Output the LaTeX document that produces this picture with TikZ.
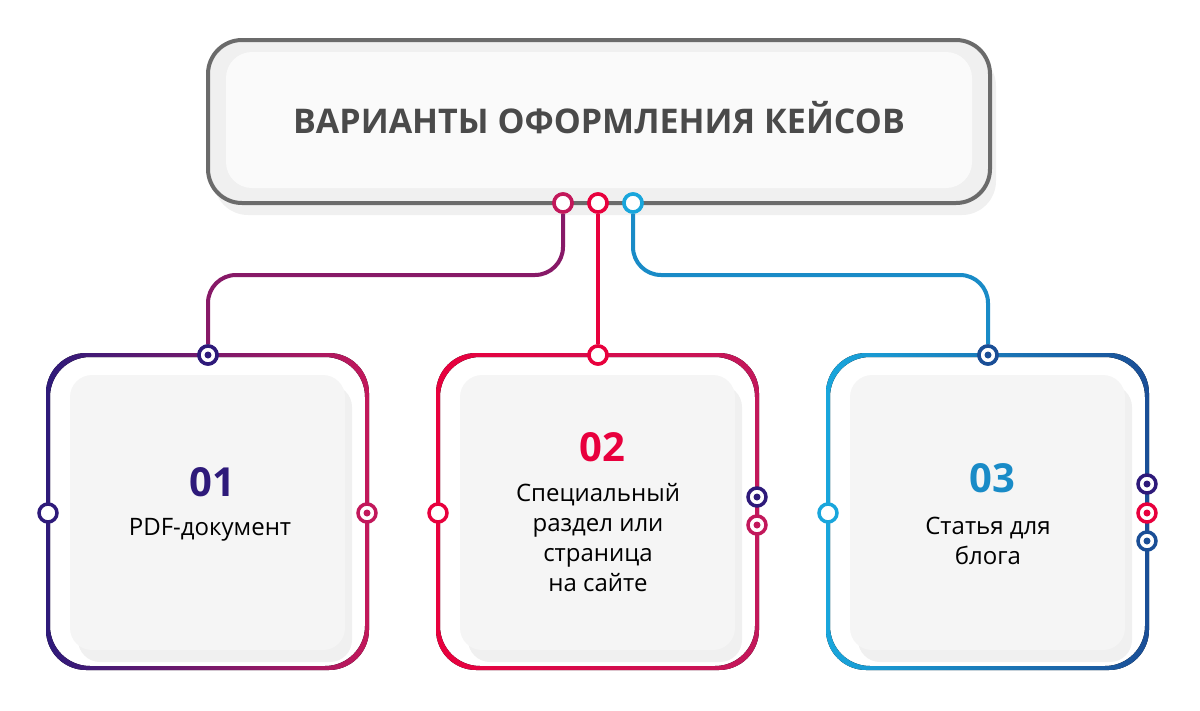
\documentclass[tikz,border=0pt]{standalone}
\usepackage{fontspec}
\setmainfont{Open Sans}
\definecolor{navy}{HTML}{2E1A7A}
\definecolor{plum}{HTML}{C2185B}
\definecolor{scarlet}{HTML}{E8003D}
\definecolor{sky}{HTML}{19A6DC}
\definecolor{deepblue}{HTML}{1A4E96}
\definecolor{titlegrey}{HTML}{4A4A4A}
\tikzset{every picture/.style={line width=4pt}}
\tikzset{
  ring/.style={circle, draw=#1, fill=white, line width=3.5pt, minimum size=18pt, inner sep=0pt},
  dotring/.style={ring=#1, path picture={\fill[#1] (path picture bounding box.center) circle (3.5pt);}},
  panel/.style={fill=black!4, rounded corners=22pt, draw=none},
  caption/.style={align=center, font=\fontsize{24}{30}\selectfont, text=black},
  number/.style={font=\fontsize{40}{42}\selectfont\bfseries}
}
\newcommand{\gradframe}[4]{% center x, center y, left colour, right colour
  \fill[left color=#3, right color=#4, even odd rule, rounded corners=40pt]
    (#1-161.5,#2-158.5) rectangle (#1+161.5,#2+158.5)
    (#1-157.5,#2-154.5) rectangle (#1+157.5,#2+154.5);}

\begin{document}
\begin{tikzpicture}[x=1pt,y=-1pt]
\useasboundingbox (0,0) rectangle (1200,710);

% title box
\fill[black!6, rounded corners=34pt] (214,52) rectangle (996,215);
\draw[draw=black!58, fill=black!6, rounded corners=34pt] (208,40) rectangle (990,203);
\fill[black!2, rounded corners=26pt] (226,52) rectangle (972,188);
\node[font=\fontsize{34}{36}\selectfont\bfseries, text=titlegrey] (title) at (599,118) {ВАРИАНТЫ ОФОРМЛЕНИЯ КЕЙСОВ};

% frames
\gradframe{207.5}{511.5}{navy}{plum}
\gradframe{597.5}{511.5}{scarlet}{plum}
\gradframe{987.5}{511.5}{sky}{deepblue}

% panels
\fill[black!6, rounded corners=22pt] (78,385) rectangle (352,662);
\fill[panel] (70,375) rectangle (345,650);
\fill[black!6, rounded corners=22pt] (468,385) rectangle (742,662);
\fill[panel] (460,375) rectangle (735,650);
\fill[black!6, rounded corners=22pt] (858,385) rectangle (1132,662);
\fill[panel] (850,375) rectangle (1125,650);

% connectors
\node[ring=plum] (t1) at (563,203) {};
\node[ring=scarlet] (t2) at (598,203) {};
\node[ring=sky] (t3) at (633,203) {};
\node[dotring=navy] (b1) at (208,355) {};
\node[ring=scarlet] (b2) at (598,355) {};
\node[dotring=deepblue] (b3) at (988,355) {};
\draw[plum!60!navy, rounded corners=28pt] (t1.south) -- (563,275) -- (208,275) -- (b1.north);
\draw[scarlet] (t2) -- (b2);
\draw[sky!70!deepblue, rounded corners=28pt] (t3.south) -- (633,275) -- (988,275) -- (b3.north);
\node[dotring=navy] at (208,355) {};
\node[ring=scarlet] at (598,355) {};
\node[dotring=deepblue] at (988,355) {};
\node[ring=plum] at (563,203) {};
\node[ring=scarlet] at (598,203) {};
\node[ring=sky] at (633,203) {};

% side rings
\node[ring=navy] (l1) at (48,513) {};
\node[dotring=plum] (r1) at (367,513) {};
\node[ring=scarlet] (l2) at (438,513) {};
\node[dotring=navy] (r2a) at (757,497) {};
\node[dotring=plum] (r2b) at (757,525) {};
\node[ring=sky] (l3) at (828,513) {};
\node[dotring=navy] (r3a) at (1147,484) {};
\node[dotring=scarlet] (r3b) at (1147,513) {};
\node[dotring=deepblue] (r3c) at (1147,541) {};

% texts
\node[number, text=navy] (n1) at (212,482) {01};
\node[caption] (c1) at (210,530) {PDF-документ};
\node[number, text=scarlet] (n2) at (602,447) {02};
\node[caption] (c2) at (598,538) {Специальный\\раздел или\\страница\\на сайте};
\node[number, text=sky!70!deepblue] (n3) at (992,478) {03};
\node[caption] (c3) at (988,541) {Статья для\\блога};
\end{tikzpicture}
\end{document}
